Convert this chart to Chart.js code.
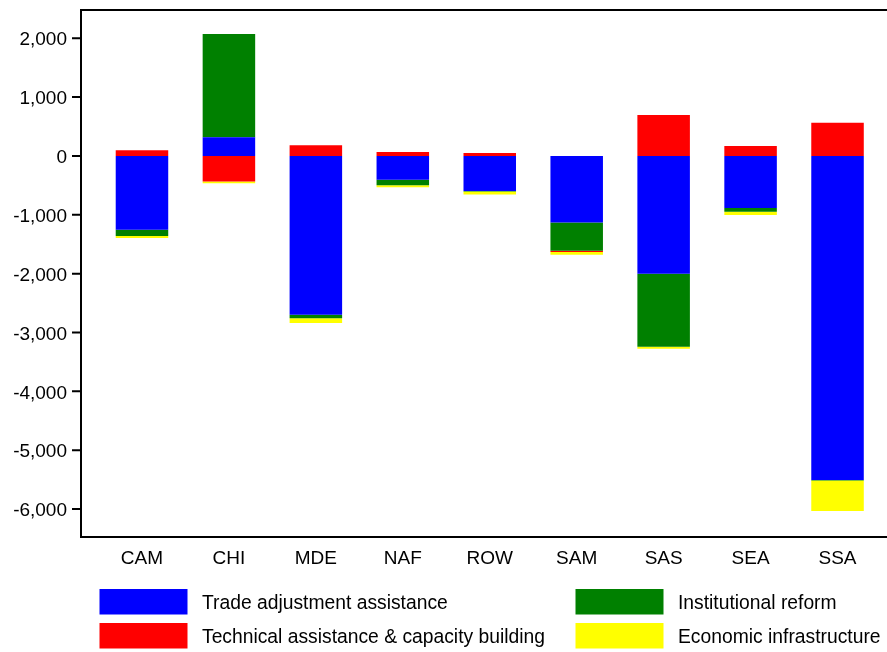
<!DOCTYPE html>
<html>
<head>
<meta charset="utf-8">
<script src="https://cdn.jsdelivr.net/npm/chart.js@4.4.1/dist/chart.umd.min.js"></script>
<style>
   html, body { margin: 0; padding: 0; background: #fff; }
   canvas { display: block; }
</style>
</head>
<body>
<canvas id="grafico_regioes" width="887" height="652"></canvas>
<script>
const regioes = ['CAM', 'CHI', 'MDE', 'NAF', 'ROW', 'SAM', 'SAS', 'SEA', 'SSA'];

// valores
const tradeAdjustment = [-1252, 318, -2697, -403, -594, -1132, -2000, -884, -5506];
const institutionalReform = [-108, 1755, -61, -95, -10, -481, -1243, -63, -8];
const technicalAssistance = [96, -436, 182, 68, 51, -20, 697, 170, 566];
const economicInfra = [-35, -28, -80, -34, -53, -48, -34, -56, -521];

const yTicks = [2000, 1000, 0, -1000, -2000, -3000, -4000, -5000, -6000];

Chart.defaults.font.family = '"Liberation Sans", Arial, sans-serif';
Chart.defaults.font.size = 19;
Chart.defaults.color = '#000';

// moldura, marcas do eixo y e legenda em duas colunas
const moldura = {
   id: 'moldura',
   afterDraw(chart) {
      const ctx = chart.ctx;
      const area = chart.chartArea;
      const escalaY = chart.scales.y;
      const esq = area.left - 17.5;

      ctx.save();
      ctx.strokeStyle = '#000';
      ctx.lineWidth = 2;
      ctx.beginPath();
      ctx.moveTo(chart.width, area.top);
      ctx.lineTo(esq, area.top);
      ctx.lineTo(esq, area.bottom);
      ctx.lineTo(chart.width, area.bottom);
      yTicks.forEach(v => {
         const py = escalaY.getPixelForValue(v);
         ctx.moveTo(esq - 9, py);
         ctx.lineTo(esq, py);
      });
      ctx.stroke();

      const colunas = [99.5, 575.5];
      ctx.font = '19.3px "Liberation Sans", Arial, sans-serif';
      ctx.textBaseline = 'middle';
      ctx.textAlign = 'left';
      chart.data.datasets.forEach((ds, i) => {
         const bx = colunas[i % 2];
         const by = 589 + Math.floor(i / 2) * 34;
         ctx.fillStyle = ds.backgroundColor;
         ctx.fillRect(bx, by, 88, 25.5);
         ctx.fillStyle = '#000';
         ctx.fillText(ds.label, bx + 102.5, by + 15);
      });
      ctx.restore();
   }
};

var ctx = document.getElementById('grafico_regioes');
new Chart(ctx, {
   type: 'bar',
   data: {
      labels: regioes,
      datasets: [{
         label: 'Trade adjustment assistance',
         data: tradeAdjustment,
         backgroundColor: '#0000FF'
      }, {
         label: 'Institutional reform',
         data: institutionalReform,
         backgroundColor: '#008000'
      }, {
         label: 'Technical assistance & capacity building',
         data: technicalAssistance,
         backgroundColor: '#FF0000'
      }, {
         label: 'Economic infrastructure',
         data: economicInfra,
         backgroundColor: '#FFFF00'
      }]
   },
   options: {
      responsive: false,
      animation: false,
      barPercentage: 0.604,
      categoryPercentage: 1,
      borderWidth: 0,
      layout: {
         padding: { top: 10, right: 6, left: 0, bottom: 0 }
      },
      plugins: {
         legend: { display: false },
         tooltip: { enabled: false }
      },
      scales: {
         x: {
            stacked: true,
            grid: { display: false, drawTicks: false },
            border: { display: false },
            ticks: { padding: 10, color: '#000' },
            afterFit: s => { s.height = 652 - 537; s.paddingLeft = 0; s.paddingRight = 0; }
         },
         y: {
            stacked: true,
            min: -6475,
            max: 2480,
            grid: { display: false, drawTicks: false },
            border: { display: false },
            afterFit: s => { s.width = 98.5; s.paddingTop = 0; s.paddingBottom = 0; },
            afterBuildTicks: s => { s.ticks = yTicks.map(v => ({ value: v })); },
            ticks: {
               padding: 31.5,
               labelOffset: 2,
               color: '#000',
               callback: v => v.toLocaleString('en-US')
            }
         }
      }
   },
   plugins: [moldura]
});
</script>
</body>
</html>
